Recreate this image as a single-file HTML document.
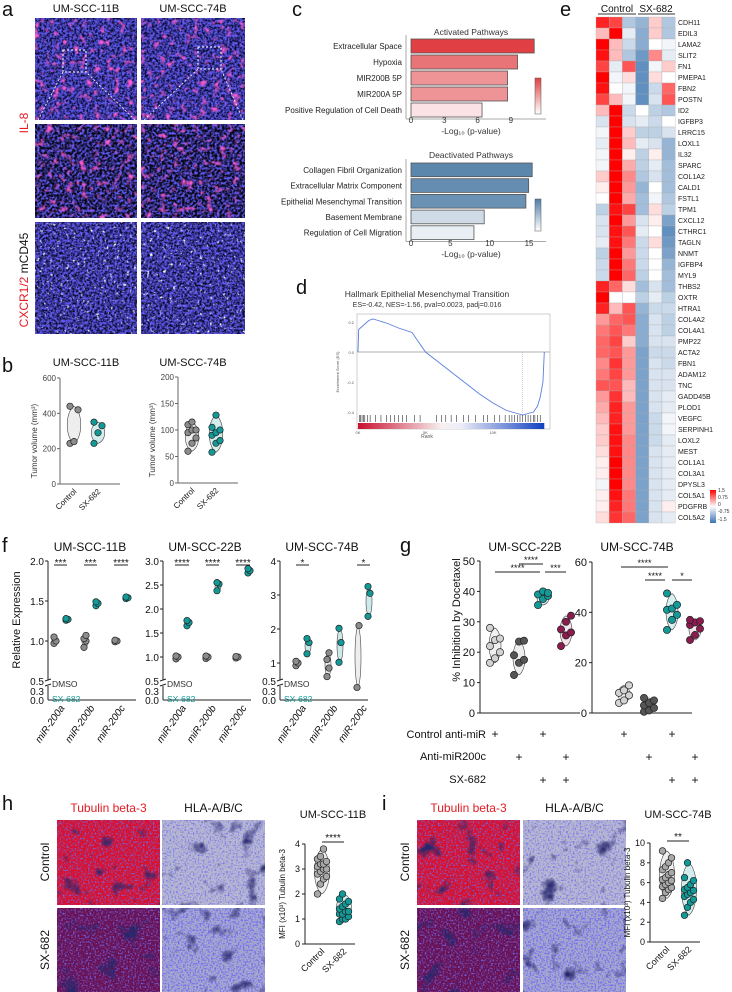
<!DOCTYPE html>
<html><head><meta charset="utf-8"><style>
html,body{margin:0;padding:0;background:#fff;}
svg{display:block;font-family:"Liberation Sans",sans-serif;}
</style></head><body>
<svg id="fig" width="732" height="992" viewBox="0 0 732 992" xmlns="http://www.w3.org/2000/svg">
<defs>
<filter id="nB" x="0" y="0" width="1" height="1"><feTurbulence type="fractalNoise" baseFrequency="0.4" numOctaves="2" seed="2"/><feColorMatrix type="matrix" values="0 0 0 0 0.12  0 0 0 0 0.1  0 0 0 0 0.9  3 0 0 0 -1.1"/></filter>
<filter id="nM" x="0" y="0" width="1" height="1"><feTurbulence type="fractalNoise" baseFrequency="0.15" numOctaves="2" seed="7"/><feColorMatrix type="matrix" values="0 0 0 0 1  0 0 0 0 0.1  0 0 0 0 0.6  0 4 0 0 -2.3"/></filter>
<filter id="nW" x="0" y="0" width="1" height="1"><feTurbulence type="fractalNoise" baseFrequency="0.3" numOctaves="2" seed="11"/><feColorMatrix type="matrix" values="0 0 0 0 1  0 0 0 0 1  0 0 0 0 1  0 0 5 0 -3.2"/></filter>
<filter id="nK" x="0" y="0" width="1" height="1"><feTurbulence type="fractalNoise" baseFrequency="0.05" numOctaves="3" seed="5"/><feColorMatrix type="matrix" values="0 0 0 0 0.02  0 0 0 0 0.02  0 0 0 0 0.15  4 0 0 0 -2.4"/></filter>
<filter id="nS" x="0" y="0" width="1" height="1"><feTurbulence type="fractalNoise" baseFrequency="0.6" numOctaves="1" seed="3"/><feColorMatrix type="matrix" values="0 0 0 0 0.15  0 0 0 0 0.15  0 0 0 0 0.9  3 0 0 0 -1.4"/></filter>
<linearGradient id="gseaBar" x1="0" x2="1"><stop offset="0" stop-color="#c8102e"/><stop offset="0.45" stop-color="#f7f0f0"/><stop offset="0.55" stop-color="#eeeef8"/><stop offset="1" stop-color="#1040c0"/></linearGradient>
<linearGradient id="cbRed" x1="0" y1="1" x2="0" y2="0"><stop offset="0" stop-color="#fff"/><stop offset="1" stop-color="#e04040"/></linearGradient>
<linearGradient id="cbBlue" x1="0" y1="1" x2="0" y2="0"><stop offset="0" stop-color="#fff"/><stop offset="1" stop-color="#4f7ea8"/></linearGradient>
<linearGradient id="cbHeat" x1="0" y1="1" x2="0" y2="0"><stop offset="0" stop-color="#3a74b0"/><stop offset="0.5" stop-color="#fff"/><stop offset="1" stop-color="#ff0000"/></linearGradient>
</defs>
</svg>
<script>
// ---------- DATA ----------
const actTerms=["Extracellular Space","Hypoxia","MIR200B 5P","MIR200A 5P","Positive Regulation of Cell Death"];
const actVals=[11.1,9.6,8.7,8.7,6.4];
const actTicks=[0,3,6,9];
const deaTerms=["Collagen Fibril Organization","Extracellular Matrix Component","Epithelial Mesenchymal Transition","Basement Membrane","Regulation of Cell Migration"];
const deaVals=[15.4,14.95,14.6,9.3,8.0];
const deaTicks=[0,5,10,15];
const gseaRank=[0,50,300,800,1100,1500,2200,3000,4000,5000,6000,7000,8000,9000,10000,11000,11800,12200,12600,13000,13300,13500,13700,13800];
const gseaES=[0,0.15,0.17,0.21,0.22,0.21,0.19,0.16,0.13,0.0,-0.07,-0.14,-0.21,-0.28,-0.34,-0.39,-0.41,-0.42,-0.41,-0.40,-0.36,-0.3,-0.2,0];
const hitRanks=[100,200,300,400,500,700,900,1300,1700,2100,2400,2700,3000,3300,3600,4200,4600,5800,6200,6500,6900,7300,7800,8200,8700,9300,9600,10100,10500,10900,11200,11400,11600,11800,12000,12200,12400,12600,12800,13000,13100,13300,13500];
const genes=["CDH11","EDIL3","LAMA2","SLIT2","FN1","PMEPA1","FBN2","POSTN","ID2","IGFBP3","LRRC15","LOXL1","IL32","SPARC","COL1A2","CALD1","FSTL1","TPM1","CXCL12","CTHRC1","TAGLN","NNMT","IGFBP4","MYL9","THBS2","OXTR","HTRA1","COL4A2","COL4A1","PMP22","ACTA2","FBN1","ADAM12","TNC","GADD45B","PLOD1","VEGFC","SERPINH1","LOXL2","MEST","COL1A1","COL3A1","DPYSL3","COL5A1","PDGFRB","COL5A2"];
const heat=[[1.3,1.1,-0.6,-0.8,0.3,-0.6],[0.4,1.5,-0.2,-0.9,0.3,-0.6],[1.5,0.4,-0.4,-0.9,0,-0.1],[1.4,0.4,-0.6,-1.1,0.7,-0.2],[1.1,-0.2,1.0,-1.2,-0.1,0.3],[1.5,-0.1,0.2,-1.2,0.2,0],[1.4,0,-0.1,-1.2,-0.4,0.9],[1.1,0.4,-0.1,-1.2,-0.3,1.0],[0.4,1.5,-0.4,0,-0.5,-0.6],[-0.3,1.5,-0.3,-0.2,-0.4,0],[-0.1,1.5,0.3,-0.5,-0.5,-0.3],[-0.2,1.5,0.4,-0.2,-0.3,-0.8],[-0.1,1.5,0.1,-0.5,0.1,-0.8],[-0.1,1.5,0.5,-0.5,-0.2,-0.7],[0.3,1.5,0.7,-0.6,-0.3,-0.7],[0.1,1.5,0.6,-0.8,0,-0.7],[0,1.5,0.5,-0.7,-0.1,-0.6],[-0.5,1.4,1.1,-0.7,0.2,-0.5],[-0.3,1.5,0.6,-0.3,0.1,-1.0],[-0.3,1.4,1.0,-0.2,0,-1.2],[-0.2,1.4,0.8,-0.4,0.2,-1.1],[-0.5,1.5,0.6,-0.4,0,-1.0],[-0.4,1.5,0.8,-0.4,0,-0.8],[-0.4,1.5,0.9,-0.5,0,-0.7],[1.3,0.9,0.2,-0.7,-0.3,-0.7],[1.5,0,0,-0.5,-0.2,-0.5],[1.3,0.4,1.0,-0.8,-0.4,-0.4],[0.6,0.9,1.0,-0.9,-0.3,-0.5],[0.8,1.0,0.8,-0.9,-0.3,-0.5],[0.9,1.1,0.3,-0.9,-0.3,-0.3],[0.9,1.0,0.6,-1.0,-0.4,-0.4],[0.7,1.2,0.6,-1.0,-0.3,-0.4],[0.8,1.1,0.6,-1.0,-0.3,-0.3],[1.0,1.0,0.4,-1.0,-0.3,-0.3],[0.6,1.2,0.4,-1.0,-0.3,-0.2],[0.5,1.3,0.6,-1.0,-0.3,-0.2],[0.4,1.3,0.6,-1.0,-0.4,-0.1],[0.3,1.4,0.6,-1.0,-0.4,-0.1],[0.3,1.4,0.7,-1.0,-0.4,-0.2],[0.2,1.4,0.7,-1.0,-0.3,-0.2],[0.1,1.5,0.7,-1.0,-0.3,-0.2],[0.1,1.5,0.7,-1.0,-0.3,-0.2],[-0.1,1.5,0.7,-1.0,-0.3,-0.2],[0.1,1.4,0.8,-1.0,-0.3,-0.2],[0.1,1.3,0.8,-1.0,-0.3,0.1],[0.2,1.2,0.9,-1.0,-0.3,-0.2]];
const bCtrl11=[230,240,420,440], bSX11=[230,290,330,350];
const bCtrl74=[60,75,85,95,100,100,110,115], bSX74=[58,75,80,90,95,100,105,128];
const fMirs=["miR-200a","miR-200b","miR-200c"];
const f11Ctrl=[[0.97,1.0,1.05],[0.92,1.0,1.03,1.07],[0.99,1.0,1.01]];
const f11SX=[[1.26,1.27,1.28],[1.44,1.47,1.49],[1.53,1.54,1.55]];
const f22Ctrl=[[0.96,1.0,1.02],[0.97,1.0,1.02],[0.98,1.0,1.01]];
const f22SX=[[1.65,1.72,1.76],[2.38,2.52,2.55],[2.75,2.8,2.84]];
const f74Ctrl=[[0.92,1.0,1.05],[0.6,0.85,1.1,1.3],[0.4,2.1]];
const f74SX=[[1.27,1.6,1.72],[1.02,1.6,2.02],[2.37,3.05,3.25]];
const g22=[[16.5,18,20,22,24,24.5,28],[12.5,16.5,17.5,19,23.5,23.8],[35.5,37.5,38.5,39,40,39.5],[22,25.5,26.5,27.5,30,32]];
const g74=[[4,5,7,8,9,11],[0.5,1,2,3,4,5,6],[33,37,39,41,41.5,43,47.5],[29,31,33.5,35,36,36.5,37]];
const hCtrl=[2.0,2.4,2.6,2.7,2.8,2.9,3.0,3.0,3.1,3.2,3.2,3.3,3.4,3.5,3.8];
const hSX=[0.9,1.0,1.0,1.1,1.2,1.2,1.3,1.3,1.4,1.5,1.6,1.7,1.8,2.0];
const iCtrl=[4.4,5,5.3,5.5,5.6,5.8,6,6.2,6.3,6.5,6.8,7,7.3,7.6,8,8.5,9.2];
const iSX=[2.7,3.5,4,4.3,4.6,4.8,5,5.2,5.3,5.5,5.8,6.2,6.5,8];

// ---------- HELPERS ----------
const NS="http://www.w3.org/2000/svg";
const svg=document.getElementById('fig');
function mk(tag,attrs,parent){const e=document.createElementNS(NS,tag);for(const k in attrs)e.setAttribute(k,attrs[k]);(parent||svg).appendChild(e);return e;}
function T(x,y,s,size,opts){opts=opts||{};const e=mk('text',{x:x,y:y,'font-size':size,fill:opts.fill||'#111','text-anchor':opts.anchor||'start'});if(opts.rot!==undefined)e.setAttribute('transform','rotate('+opts.rot+' '+x+' '+y+')');if(opts.italic)e.setAttribute('font-style','italic');e.textContent=s;return e;}
function L(x1,y1,x2,y2,c,w){return mk('line',{x1:x1,y1:y1,x2:x2,y2:y2,stroke:c||'#222','stroke-width':w||1});}
function dot(x,y,r,fill){return mk('circle',{cx:x,cy:y,r:r,fill:fill,stroke:'#222','stroke-width':0.7});}
function violin(x,ys,w,fill){const lo=Math.max(...ys),hi=Math.min(...ys),m=(lo+hi)/2;
 return mk('path',{d:`M${x},${hi} C${x+w},${hi+(m-hi)*0.3} ${x+w},${lo-(lo-m)*0.3} ${x},${lo} C${x-w},${lo-(lo-m)*0.3} ${x-w},${hi+(m-hi)*0.3} ${x},${hi}Z`,fill:fill,stroke:'#444','stroke-width':0.6});}
function jit(i,n,s){return (i-(n-1)/2)*s;}
function image(x,y,w,h,base,layers,name){const g=mk('g',{});
 mk('rect',{x:x,y:y,width:w,height:h,fill:base},g);layers.forEach(f=>mk('rect',{x:x,y:y,width:w,height:h,filter:'url(#'+f+')'},g));return g;}

// ---------- PANEL LETTERS ----------
[["a",2,16],["b",2,372],["c",292,16],["d",296,294],["e",560,16],["f",2,552],["g",400,552],["h",2,810],["i",382,810]].forEach(p=>{const t=T(p[1],p[2],p[0],20);});

// ---------- PANEL A ----------
T(86,12,"UM-SCC-11B",11,{anchor:'middle'});T(193,12,"UM-SCC-74B",11,{anchor:'middle'});
const aCols=[[35,102],[141,104]], aRows=[[18,102,'#0c0c3a',['nS','nB','nM']],[124,94,'#080818',['nB','nM']],[222,112,'#0a0a30',['nS','nB','nW']]];
aRows.forEach((r,ri)=>aCols.forEach((c,ci)=>image(c[0],r[0],c[1],r[1],r[2],r[3],'micrograph-a-r'+ri+'-c'+ci)));
mk('rect',{x:63,y:50,width:23,height:22,fill:'none',stroke:'#fff','stroke-dasharray':'2,2'});
mk('rect',{x:198,y:47,width:23,height:22,fill:'none',stroke:'#fff','stroke-dasharray':'2,2'});
L(38,120,63,72,'#fff',0.8).setAttribute('stroke-dasharray','2,2');L(135,120,86,72,'#fff',0.8).setAttribute('stroke-dasharray','2,2');
L(144,120,198,69,'#fff',0.8).setAttribute('stroke-dasharray','2,2');L(243,120,221,69,'#fff',0.8).setAttribute('stroke-dasharray','2,2');
T(28,123,"IL-8",12,{fill:'#e31b23',rot:-90,anchor:'middle'});
const cx=mk('text',{x:28,y:280,'font-size':12,'text-anchor':'middle',transform:'rotate(-90 28 280)'});cx.innerHTML='<tspan fill="#e31b23">CXCR1/2</tspan><tspan fill="#111"> mCD45</tspan>';

// ---------- PANEL B ----------
function bChart(x0,yBase,yTop,vmax,ticks,ctrl,sx,title,tx,name){
 const g=mk('g',{});
 const y=v=>yBase-(v/vmax)*(yBase-yTop);
 T(tx,366,title,11,{anchor:'middle'});
 L(x0,yTop,x0,yBase,'#666');L(x0,yBase,x0+60,yBase,'#666');
 ticks.forEach(t=>{L(x0-3,y(t),x0,y(t),'#666');T(x0-4,y(t)+3,String(t),8,{anchor:'end',fill:'#444'});});
 T(x0-23,(yTop+yBase)/2+10,"Tumor volume (mm³)",8,{rot:-90,anchor:'middle',fill:'#333'});
 const xc=x0+14,xs=x0+38;
 violin(xc,ctrl.map(y),9,'#eee');violin(xs,sx.map(y),9,'#d4ecec');
 ctrl.forEach((v,i)=>dot(xc+jit(i%3,3,4),y(v),3.2,'#8c8c8c'));
 sx.forEach((v,i)=>dot(xs+jit(i%3,3,4),y(v),3.2,'#129a98'));
 T(xc+3,yBase+8,"Control",8,{rot:-45,anchor:'end'});T(xs+3,yBase+8,"SX-682",8,{rot:-45,anchor:'end'});
}
bChart(60,484,378,600,[0,200,400,600],bCtrl11,bSX11,"UM-SCC-11B",86,'chart-b-11b');
bChart(178,483,377,200,[0,50,100,150,200],bCtrl74,bSX74,"UM-SCC-74B",193,'chart-b-74b');

// ---------- PANEL C ----------
function cChart(terms,vals,ticks,x0,ppu,y0,step,title,ty,colLo,colHi,vmin,vmax,name,axY){
 const g=mk('g',{});
 T(x0+60,ty,title,8.5,{anchor:'middle',fill:'#333'});
 L(x0-5,y0-4,x0-5,y0+step*5,'#aaa');L(x0-5,y0+step*5,x0+135,y0+step*5,'#aaa');
 const mix=(a,b,t)=>'rgb('+[0,1,2].map(i=>Math.round(a[i]+(b[i]-a[i])*t)).join(',')+')';
 terms.forEach((s,i)=>{const t=Math.max(0,Math.min(1,(vals[i]-vmin)/(vmax-vmin)));
  const r=mk('rect',{x:x0,y:y0+i*step,width:vals[i]*ppu,height:step-2,fill:mix(colLo,colHi,t),stroke:'#555','stroke-width':0.8});
  
  T(x0-9,y0+i*step+step/2+2,s,8,{anchor:'end',fill:'#222'});});
 ticks.forEach(t=>T(x0+t*ppu,axY,String(t),8,{anchor:'middle',fill:'#333'}));
 T(x0+60,axY+11,"-Log₁₀ (p-value)",8.5,{anchor:'middle',fill:'#333'});
}
cChart(actTerms,actVals,actTicks,411,11.1,39,16,"Activated Pathways",35,[251,226,228],[224,64,68],6.4,11.1,'chart-c-activated',123);
cChart(deaTerms,deaVals,deaTicks,411,7.87,163,15.7,"Deactivated Pathways",158,[232,238,243],[91,135,173],8,15.4,'chart-c-deactivated',246);
mk('rect',{x:535,y:78,width:6,height:36,fill:'url(#cbRed)',stroke:'#555','stroke-width':0.5});
mk('rect',{x:535,y:199,width:6,height:32,fill:'url(#cbBlue)',stroke:'#555','stroke-width':0.5});

// ---------- PANEL D ----------
(function(){const g=mk('g',{});
 const X=r=>358+r*(493-358)/10000, Y=e=>352-e*150;
 T(427,297,"Hallmark Epithelial Mesenchymal Transition",8.5,{anchor:'middle',fill:'#333'});
 T(427,307,"ES=-0.42, NES=-1.56, pval=0.0023, padj=0.016",7,{anchor:'middle',fill:'#333'});
 mk('rect',{x:357,y:314,width:193,height:115,fill:'#fff',stroke:'#bbb','stroke-width':0.7});
 L(357,Y(0),550,Y(0),'#999',0.8);
 [[0.2,"0.2"],[0,"0.0"],[-0.2,"-0.2"],[-0.4,"-0.4"]].forEach(t=>T(354,Y(t[0])+2,t[1],4,{anchor:'end',fill:'#555'}));
 T(339,372,"Enrichment Score (ES)",4,{rot:-90,anchor:'middle',fill:'#555'});
 mk('polyline',{points:gseaRank.map((r,i)=>X(r)+','+Y(gseaES[i])).join(' '),fill:'none',stroke:'#5b7fe0','stroke-width':0.9});
 L(X(12200),Y(0),X(12200),Y(-0.42),'#99a',0.5).setAttribute('stroke-dasharray','1,1');
 hitRanks.forEach(r=>L(X(r),415,X(r),422,'#333',0.6));
 mk('rect',{x:X(0),y:423,width:X(13800)-X(0),height:6,fill:'url(#gseaBar)'});
 [[0,"0K"],[5000,"5K"],[10000,"10K"]].forEach(t=>T(X(t[0]),434,t[1],4,{anchor:'middle',fill:'#555'}));
 T(427,438,"Rank",5,{anchor:'middle',fill:'#555'});
})();

// ---------- PANEL E ----------
(function(){const g=mk('g',{});
 const x0=596,cw=13.2,y0=17,rh=11;
 const col=v=>{const t=Math.max(-1,Math.min(1,v/1.5));let c;if(t>=0)c=[255,Math.round(255*(1-t)),Math.round(255*(1-t))];else{const s=-t;c=[Math.round(255-(255-58)*s),Math.round(255-(255-116)*s),Math.round(255-(255-176)*s)];}return 'rgb('+c.join(',')+')';};
 T(617,12,"Control",10,{anchor:'middle'});T(656,12,"SX-682",10,{anchor:'middle'});
 L(598,14,636,14,'#333');L(638,14,675,14,'#333');
 heat.forEach((row,ri)=>{row.forEach((v,ci)=>{mk('rect',{x:x0+ci*cw,y:y0+ri*rh,width:cw,height:rh,fill:col(v),stroke:'#aaa','stroke-width':0.3},g);});
  T(678,y0+ri*rh+8,genes[ri],7,{fill:'#222'});});
 mk('rect',{x:710,y:490,width:6,height:33,fill:'url(#cbHeat)'});
 [["1.5",492],["0.75",499],["0",506],["-0.75",513],["-1.5",521]].forEach(t=>T(718,t[1],t[0],5,{fill:'#333'}));
})();

// ---------- PANEL F ----------
function fChart(x0,title,ticksHi,dec,vTop,yTop,yOne,ctrl,sx,cxs,name){
 const g=mk('g',{});
 const ppu=(yOne-yTop)/(vTop-1);
 const y=v=>v>=0.5?yOne+(1-v)*ppu:(v>=0.3?692-(v-0.3)/0.2*9:700-v/0.3*8);
 T(x0+42,551,title,12,{anchor:'middle'});
 L(x0,yTop,x0,680,'#222');L(x0,686,x0,700,'#222');L(x0,700,x0+88,700,'#222');
 L(x0-3,681,x0+3,679,'#222');L(x0-3,686,x0+3,684,'#222');
 ticksHi.forEach(t=>{L(x0-3,y(t),x0,y(t));T(x0-4,y(t)+4,t.toFixed(dec),10,{anchor:'end'});});
 [[0.5,"0.5",683],[0.3,"0.3",693],[0,"0.0",702]].forEach(t=>T(x0-4,t[2]+2,t[1],10,{anchor:'end'}));
 T(x0+4,687,"DMSO",8.5,{fill:'#333'});T(x0+4,702,"SX-682",8.5,{fill:'#129a98'});
 fMirs.forEach((m,i)=>{const xc=cxs[i][0],xs=cxs[i][1];
  violin(xc,ctrl[i].map(y),4,'#eee');violin(xs,sx[i].map(y),4,'#cde9ea');
  ctrl[i].forEach((v,j)=>dot(xc+jit(j%2,2,2),y(v),3.2,'#8c8c8c'));
  sx[i].forEach((v,j)=>dot(xs+jit(j%2,2,2),y(v),3.2,'#129a98'));
  T((xc+xs)/2+4,708,m,10,{rot:-55,anchor:'end',italic:true});});
}
fChart(48,"UM-SCC-11B",[1.0,1.5,2.0],1,2.0,561,641,f11Ctrl,f11SX,[[55,67],[85,97],[116,127]],'chart-f-11b');
fChart(163,"UM-SCC-22B",[1.0,1.5,2.0,2.5,3.0],1,3.0,561,657,f22Ctrl,f22SX,[[177,188],[207,218],[237,249]],'chart-f-22b');
fChart(280,"UM-SCC-74B",[1,2,3,4],0,4,561,663,f74Ctrl,f74SX,[[297,308],[328,340],[358,369]],'chart-f-74b');
T(20,620,"Relative Expression",11,{rot:-90,anchor:'middle'});
[[54,67,565,"***"],[84,97,565,"***"],[114,128,565,"****"],[175,189,565,"****"],[206,219,565,"****"],[236,250,565,"****"],[296,309,565,"*"],[357,370,565,"*"]].forEach(s=>{L(s[0],s[2],s[1],s[2]);T((s[0]+s[1])/2,s[2]+1,s[3],10,{anchor:'middle'});});

// ---------- PANEL G ----------
function gChart(x0,ticks,vmax,yTop,data,xs,title,name){
 const g=mk('g',{});
 const yB=713,y=v=>yB-v/vmax*(yB-yTop);
 T(x0+45,551,title,12,{anchor:'middle'});
 L(x0,yTop,x0,yB);L(x0,yB,x0+100,yB);
 ticks.forEach(t=>{L(x0-3,y(t),x0,y(t));T(x0-5,y(t)+4,String(t),11,{anchor:'end'});});
 const fills=['#d2d2d2','#555','#129a98','#8b1a4e'],vf=['#f0f0f0','#eee','#d8efef','#f3e3ea'];
 data.forEach((d,i)=>{violin(xs[i],d.map(y),8,vf[i]);d.forEach((v,j)=>dot(xs[i]+jit(j%3,3,5),y(v),3.6,fills[i]));});
 const rows=[[1,0,1,0],[0,1,0,1],[0,0,1,1]];
 rows.forEach((r,ri)=>r.forEach((on,ci)=>{if(on)T(xs[ci],738+ri*23,"+",12,{anchor:'middle'});}));
}
gChart(480,[0,10,20,30,40,50],50,561,g22,[495,519,543,566],"UM-SCC-22B",'chart-g-22b');
gChart(592,[0,20,40,60],60,562,g74,[624,649,672,695],"UM-SCC-74B",'chart-g-74b');
T(460,620,"% Inhibition by Docetaxel",11,{rot:-90,anchor:'middle'});
T(486,738,"Control anti-miR",11,{anchor:'end'});T(486,760,"Anti-miR200c",11,{anchor:'end'});T(486,783,"SX-682",11,{anchor:'end'});
[[519,543,564,"****"],[495,540,572,"****"],[545,566,572,"***"],[621,668,567,"****"],[645,665,580,"****"],[672,692,580,"*"]].forEach(s=>{L(s[0],s[2],s[1],s[2]);T((s[0]+s[1])/2,s[2]-1,s[3],9,{anchor:'middle'});});

// ---------- PANELS H / I ----------
function hImages(x1,x2,w,tag){T(x1+w/2,812,"Tubulin beta-3",12,{anchor:'middle',fill:'#e31b23'});T(x2+w/2,812,"HLA-A/B/C",12,{anchor:'middle'});
 image(x1,820,w,85,'#d8102c',['nS','nK'],'micrograph-'+tag+'-tub-control');image(x2,820,w,85,'#b8b8d0',['nS','nK'],'micrograph-'+tag+'-hla-control');
 image(x1,908,w,84,'#6a1050',['nS','nK'],'micrograph-'+tag+'-tub-sx682');image(x2,908,w,84,'#a8a8cc',['nS','nS','nK'],'micrograph-'+tag+'-hla-sx682');
 T(x1-8,862,"Control",12,{rot:-90,anchor:'middle'});T(x1-8,950,"SX-682",12,{rot:-90,anchor:'middle'});}
hImages(57,162,103,'h');hImages(417,523,103,'i');
function mfi(x0,yB,yTop,vmax,ticks,ctrl,sx,title,sig,name){
 const g=mk('g',{});
 const y=v=>yB-v/vmax*(yB-yTop);
 T(x0+28,818,title,11,{anchor:'middle'});
 L(x0,yTop,x0,yB);L(x0,yB,x0+50,yB);
 ticks.forEach(t=>{L(x0-3,y(t),x0,y(t));T(x0-5,y(t)+3,String(t),9,{anchor:'end'});});
 T(x0-20,(yB+yTop)/2,"MFI (x10³) Tubulin beta-3",8,{rot:-90,anchor:'middle'});
 const xc=x0+17,xs=x0+39;
 violin(xc,ctrl.map(y),10,'#eee');violin(xs,sx.map(y),10,'#d4ecec');
 ctrl.forEach((v,i)=>dot(xc+jit(i%4,4,3),y(v),3.3,'#a8a8a8'));
 sx.forEach((v,i)=>dot(xs+jit(i%4,4,3),y(v),3.3,'#129a98'));
 L(xc,yTop-2,xs,yTop-2);T((xc+xs)/2,yTop-3,sig,10,{anchor:'middle'});
 T(xc+3,yB+8,"Control",9,{rot:-45,anchor:'end'});T(xs+3,yB+8,"SX-682",9,{rot:-45,anchor:'end'});
}
mfi(305,944,844,4,[0,1,2,3,4],hCtrl,hSX,"UM-SCC-11B","****",'chart-h-mfi');
mfi(650,942,843,10,[0,2,4,6,8,10],iCtrl,iSX,"UM-SCC-74B","**",'chart-i-mfi');
</script>
</body></html>
